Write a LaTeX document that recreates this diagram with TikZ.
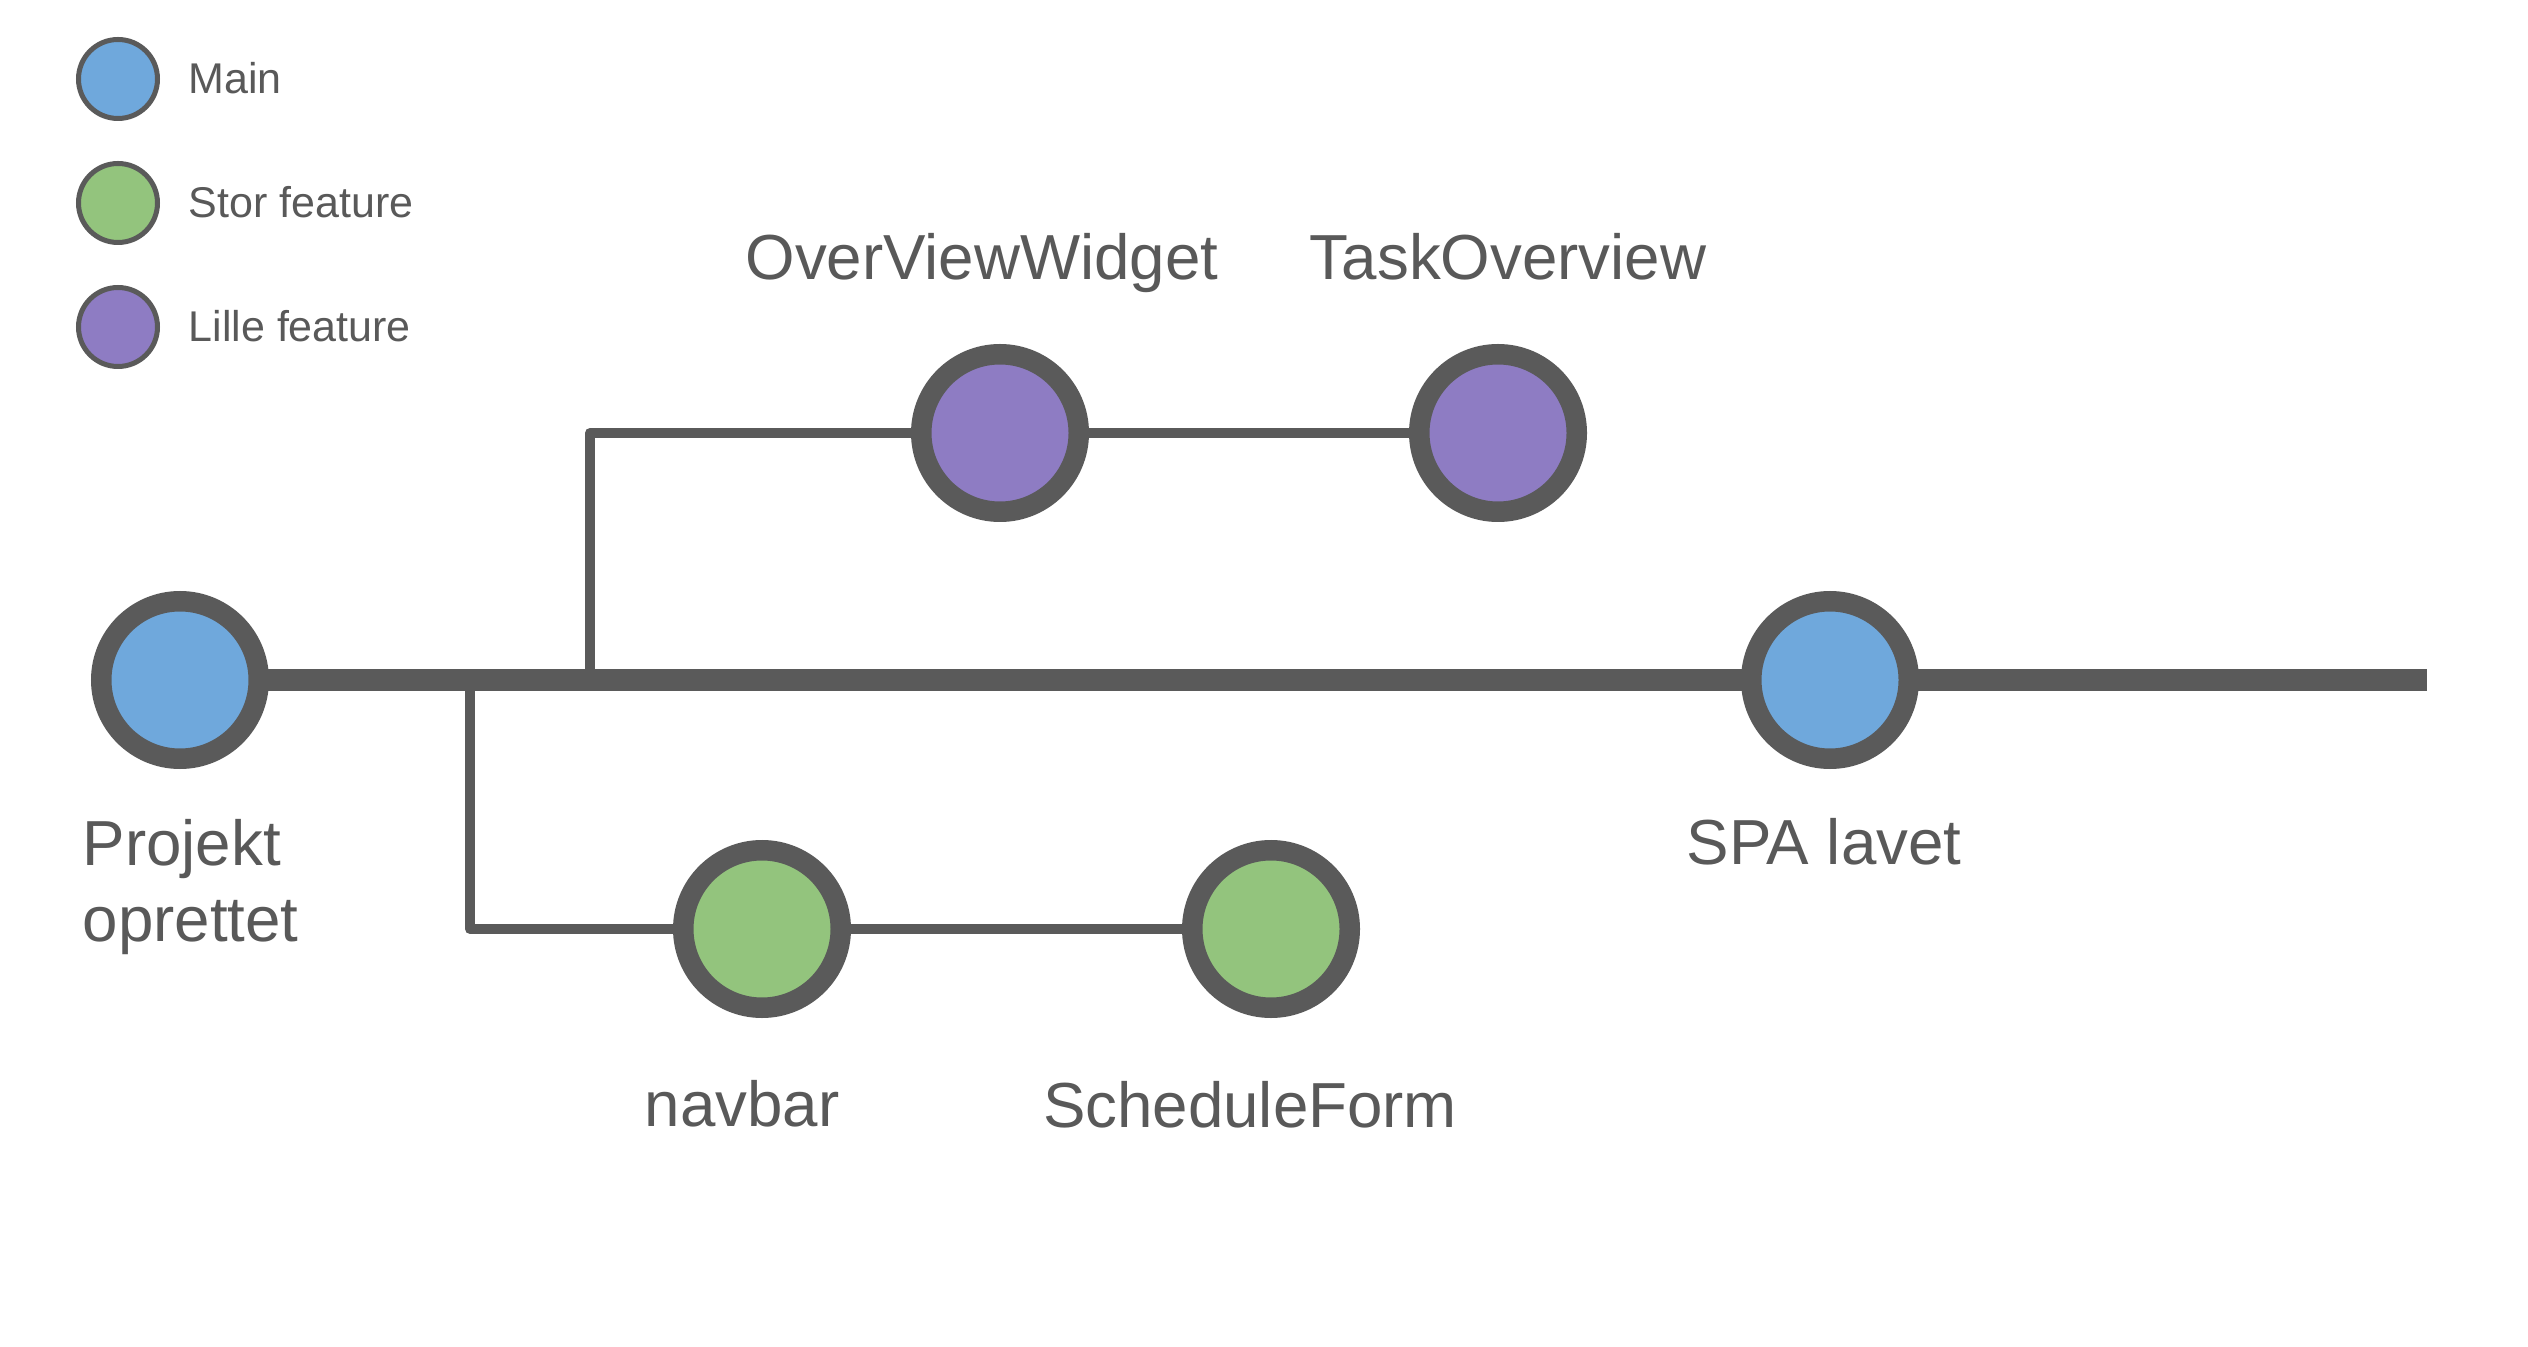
\documentclass[tikz,border=0pt]{standalone}
\usepackage{fontspec}
\setmainfont{Liberation Sans}
\usetikzlibrary{backgrounds}
\definecolor{linegray}{HTML}{5A5A5A}
\definecolor{txtgray}{HTML}{595959}
\definecolor{mainblue}{HTML}{6FA8DC}
\definecolor{storgreen}{HTML}{93C47D}
\definecolor{lillepurple}{HTML}{8E7CC3}
\tikzset{
  commit/.style={circle, draw=linegray, line width=6.15pt, minimum size=47.25pt, inner sep=0pt},
  legdot/.style={circle, draw=linegray, line width=1.5pt, minimum size=23.7pt, inner sep=0pt},
  biglabel/.style={inner sep=0pt, text=txtgray, font=\fontsize{19.1}{22.8}\selectfont},
  leglabel/.style={inner sep=0pt, text=txtgray, font=\fontsize{12.9}{15}\selectfont, anchor=base west},
  mainline/.style={draw=linegray, line width=6.45pt},
  branchline/.style={draw=linegray, line width=3pt, line join=round},
}
\begin{document}
\begin{tikzpicture}[x=0.3pt, y=-0.3pt]
\useasboundingbox (0,0) rectangle (2528,1347);

% legend
\node[legdot, fill=mainblue] (lm) at (118,79) {};
\node[legdot, fill=storgreen] (ls) at (118,203) {};
\node[legdot, fill=lillepurple] (ll) at (118,327) {};
\node[leglabel] (lmt) at (188,94) {Main};
\node[leglabel] (lst) at (188,218) {Stor feature};
\node[leglabel] (llt) at (188,342) {Lille feature};

% commits
\node[commit, fill=mainblue] (proj) at (180,680) {};
\node[commit, fill=mainblue] (spa) at (1830,680) {};
\node[commit, fill=lillepurple] (ovw) at (1000,433) {};
\node[commit, fill=lillepurple] (task) at (1498,433) {};
\node[commit, fill=storgreen] (nav) at (762,929) {};
\node[commit, fill=storgreen] (sched) at (1271,929) {};

\coordinate (mainend) at (2427,680);
\coordinate (upfork) at (590,680);
\coordinate (upcorner) at (590,433);
\coordinate (downfork) at (470,680);
\coordinate (downcorner) at (470,929);

% labels
\node[biglabel, anchor=base west] (projt) at (82,865)
  {\vtop{\baselineskip=22.8pt\hbox{Projekt}\hbox{oprettet}}};
\node[biglabel, anchor=base] (spat) at (1824,864) {SPA lavet};
\node[biglabel, anchor=base] (ovwt) at (982,280) {OverViewWidget};
\node[biglabel, anchor=base] (taskt) at (1508,280) {TaskOverview};
\node[biglabel, anchor=base] (navt) at (742,1126) {navbar};
\node[biglabel, anchor=base] (schedt) at (1250,1127) {ScheduleForm};

\begin{scope}[on background layer]
  \fill[white] (0,0) rectangle (2528,1347);
  \draw[branchline] (upfork) -- (upcorner) -- (ovw.center);
  \draw[branchline] (ovw.center) -- (task.center);
  \draw[branchline] (downfork) -- (downcorner) -- (nav.center);
  \draw[branchline] (nav.center) -- (sched.center);
  \draw[mainline] (proj.center) -- (spa.center) -- (mainend);
\end{scope}
\end{tikzpicture}
\end{document}
